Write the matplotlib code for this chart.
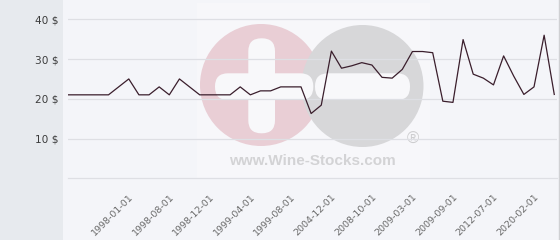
import matplotlib
matplotlib.use("Agg")
import matplotlib.pyplot as plt
from matplotlib.patches import Rectangle, Circle, FancyBboxPatch

# ---- data ----
prices = [21, 21, 21, 21, 21, 23, 25, 21, 21, 23,
          21, 25, 23, 21, 21, 21, 21, 23, 21, 22,
          22, 23, 23, 23, 16.3, 18.4, 32, 27.7, 28.3, 29.1,
          28.5, 25.4, 25.2, 27.4, 31.9, 31.9, 31.6, 19.4, 19.1, 34.9,
          26.2, 25.2, 23.5, 30.8, 25.7, 21.1, 23.0, 36.0, 21.1]
x_labels = ["1998-01-01", "1998-08-01", "1998-12-01", "1999-04-01", "1999-08-01",
            "2004-12-01", "2008-10-01", "2009-03-01", "2009-09-01", "2012-07-01",
            "2020-02-01"]
y_ticks = [10, 20, 30, 40]
y_labels = ["10 $", "20 $", "30 $", "40 $"]

W, H = 560, 240
fig = plt.figure(figsize=(W / 100, H / 100), dpi=100)
fig.patch.set_facecolor('#e7eaee')

# background / watermark layer in pixel coordinates
bg = fig.add_axes([0, 0, 1, 1], zorder=-1)
bg.set_xlim(0, W)
bg.set_ylim(H, 0)
bg.axis('off')
bg.add_patch(Rectangle((63, 0), W - 63, H, color='#f4f5f9', lw=0))
bg.add_patch(Rectangle((197, 3), 233, 175, color='#f7f7fa', lw=0))
bg.add_patch(Circle((261, 85), 61, color='#e9ced5', lw=0))
bg.add_patch(Circle((362.5, 86), 61, color='#d7d7d9', lw=0))
bar_col = '#f8f8fa'
bg.add_patch(FancyBboxPatch((248.3, 38.3), 26.7, 95, boxstyle="round,pad=0,rounding_size=13",
                            color=bar_col, lw=0))
bg.add_patch(FancyBboxPatch((215, 73.3), 98.3, 26.7, boxstyle="round,pad=0,rounding_size=13",
                            color=bar_col, lw=0))
bg.add_patch(FancyBboxPatch((315, 73.3), 95, 26.7, boxstyle="round,pad=0,rounding_size=13",
                            color=bar_col, lw=0))
bg.text(312, 161, "www.Wine-Stocks.com", ha='center', va='center', fontsize=11,
        fontweight='bold', color='#d3d3d5', family='Liberation Sans')
bg.text(413, 139, "\u00ae", ha='center', va='center', fontsize=12,
        color='#cdcdcf', family='Liberation Sans')
bg.plot([559, 559], [0, H], color='#cfd0d3', lw=1.0)

# main axes
left, right, bottom_px = 68, 557, 178.3
ax = fig.add_axes([left / W, (H - bottom_px) / H, (right - left) / W, bottom_px / H], zorder=1)
ax.set_facecolor('none')
x = list(range(len(prices)))
ax.plot(x, prices, color='#3a1e2c', lw=0.9, zorder=3)
ax.set_xlim(0, 48.27)
ax.set_ylim(0, 44.86)
for s in ax.spines.values():
    s.set_visible(False)

ax.set_yticks(y_ticks)
ax.set_yticklabels(y_labels)
ax.grid(axis='y', color='#dedfe4', lw=0.9)
ax.axhline(0, color='#dedfe4', lw=0.9, clip_on=False)
ax.tick_params(axis='y', length=0, pad=6.5, labelsize=7.6, labelcolor='#3c3c3c')

tick_pos = list(range(6, 6 + 4 * len(x_labels), 4))
ax.set_xticks(tick_pos)
ax.set_xticklabels(x_labels, rotation=45, ha='right', va='top', rotation_mode='anchor',
                   fontsize=6.8, color='#6a6a6a')
ax.tick_params(axis='x', length=0, pad=10)
ax.set_axisbelow(True)

fig.savefig('out.png', dpi=100, facecolor=fig.get_facecolor())
